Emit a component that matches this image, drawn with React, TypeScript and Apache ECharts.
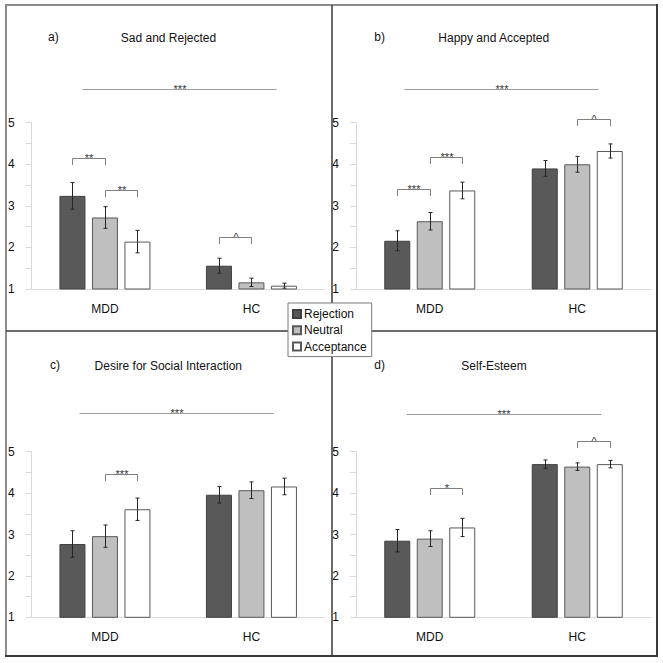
import React, { useEffect, useRef } from 'react';
import * as echarts from 'echarts';

const categories = ['MDD', 'HC'];
const conditions = ['Rejection', 'Neutral', 'Acceptance'];
const yTickValues = [1, 2, 3, 4, 5];

// a) Sad and Rejected
const sadRejection = [3.24, 1.56];
const sadNeutral = [2.72, 1.16];
const sadAcceptance = [2.14, 1.08];
const sadRejectionSE = [0.32, 0.18];
const sadNeutralSE = [0.26, 0.1];
const sadAcceptanceSE = [0.27, 0.06];

// b) Happy and Accepted
const happyRejection = [2.16, 3.9];
const happyNeutral = [2.63, 4.0];
const happyAcceptance = [3.37, 4.32];
const happyRejectionSE = [0.24, 0.19];
const happyNeutralSE = [0.21, 0.19];
const happyAcceptanceSE = [0.2, 0.17];

// c) Desire for Social Interaction
const desireRejection = [2.77, 3.96];
const desireNeutral = [2.96, 4.07];
const desireAcceptance = [3.61, 4.16];
const desireRejectionSE = [0.32, 0.2];
const desireNeutralSE = [0.27, 0.2];
const desireAcceptanceSE = [0.27, 0.2];

// d) Self-Esteem
const esteemRejection = [2.85, 4.7];
const esteemNeutral = [2.9, 4.64];
const esteemAcceptance = [3.17, 4.7];
const esteemRejectionSE = [0.27, 0.1];
const esteemNeutralSE = [0.19, 0.09];
const esteemAcceptanceSE = [0.22, 0.09];

// significance: [catFrom, barFrom, catTo, barTo, yValue, hasTicks]
const sadBrackets = [
  [0, 0.29, 1, 1.77, 5.82, 0],
  [0, 0, 0, 1, 4.14, 1],
  [0, 1, 0, 2, 3.38, 1],
  [1, 0, 1, 1, 2.24, 1],
];
const sadLabels = ['***', '**', '**', '^'];
const happyBrackets = [
  [0, 0.2, 1, 1.63, 5.82, 0],
  [0, 0, 0, 1, 3.4, 1],
  [0, 1, 0, 2, 4.18, 1],
  [1, 1, 1, 2, 5.1, 1],
];
const happyLabels = ['***', '***', '***', '^'];
const desireBrackets = [
  [0, 0.2, 1, 1.66, 5.93, 0],
  [0, 1, 0, 2, 4.46, 1],
];
const desireLabels = ['***', '***'];
const esteemBrackets = [
  [0, 0.28, 1, 1.74, 5.91, 0],
  [0, 1, 0, 2, 4.12, 1],
  [1, 1, 1, 2, 5.26, 1],
];
const esteemLabels = ['***', '*', '^'];

const panelTitles = ['Sad and Rejected', 'Happy and Accepted', 'Desire for Social Interaction', 'Self-Esteem'];
const panelLetters = ['a)', 'b)', 'c)', 'd)'];

const FONT = "'Liberation Sans', Arial, Helvetica, sans-serif";
const BAR_W = 26;
const BAR_STEP = 32.5;
const fills = ['#595959', '#bfbfbf', '#ffffff'];
const borders = ['#404040', '#595959', '#595959'];

const panels = [
  {
    means: [sadRejection, sadNeutral, sadAcceptance],
    se: [sadRejectionSE, sadNeutralSE, sadAcceptanceSE],
    brackets: sadBrackets,
    labels: sadLabels,
    grid: { left: 31.7, top: 122.7, width: 293, height: 166.3 },
    letter: { x: 48, y: 37.7 },
    title: { x: 168.5, y: 37.7 },
  },
  {
    means: [happyRejection, happyNeutral, happyAcceptance],
    se: [happyRejectionSE, happyNeutralSE, happyAcceptanceSE],
    brackets: happyBrackets,
    labels: happyLabels,
    grid: { left: 356, top: 122.7, width: 295, height: 166.3 },
    letter: { x: 374.3, y: 37.7 },
    title: { x: 493.7, y: 37.7 },
  },
  {
    means: [desireRejection, desireNeutral, desireAcceptance],
    se: [desireRejectionSE, desireNeutralSE, desireAcceptanceSE],
    brackets: desireBrackets,
    labels: desireLabels,
    grid: { left: 31.7, top: 451.7, width: 293, height: 165.6 },
    letter: { x: 50, y: 365.7 },
    title: { x: 168.3, y: 365.7 },
  },
  {
    means: [esteemRejection, esteemNeutral, esteemAcceptance],
    se: [esteemRejectionSE, esteemNeutralSE, esteemAcceptanceSE],
    brackets: esteemBrackets,
    labels: esteemLabels,
    grid: { left: 356, top: 451.7, width: 295, height: 165.6 },
    letter: { x: 374.3, y: 365.7 },
    title: { x: 494, y: 365.7 },
  },
];

function buildOption() {
  const grid: any[] = [];
  const xAxis: any[] = [];
  const yAxis: any[] = [];
  const series: any[] = [];
  const graphic: any[] = [];

  panels.forEach((p, gi) => {
    grid.push({ ...p.grid, containLabel: false });
    xAxis.push({
      type: 'category',
      gridIndex: gi,
      data: categories,
      axisLine: { show: true, lineStyle: { color: '#d9d9d9', width: 1 } },
      axisTick: { show: false },
      axisLabel: { color: '#111111', fontSize: 12, fontFamily: FONT, margin: 14 },
      splitLine: { show: false },
    });
    yAxis.push({
      type: 'value',
      gridIndex: gi,
      min: 1,
      max: 5,
      interval: 0.5,
      axisLine: { show: true, lineStyle: { color: '#d9d9d9', width: 1 } },
      axisTick: { show: true, length: 6, lineStyle: { color: '#d9d9d9' } },
      axisLabel: {
        color: '#111111',
        fontSize: 12,
        fontFamily: FONT,
        margin: 17,
        formatter: (v: number) => (yTickValues.includes(v) ? String(v) : ''),
      },
      splitLine: { show: false },
    });

    conditions.forEach((c, ci) => {
      series.push({
        type: 'bar',
        name: c,
        xAxisIndex: gi,
        yAxisIndex: gi,
        data: p.means[ci],
        barWidth: BAR_W,
        barGap: '25%',
        itemStyle: { color: fills[ci], borderColor: borders[ci], borderWidth: 1 },
        silent: true,
      });
    });

    const errData: number[][] = [];
    conditions.forEach((c, ci) => {
      categories.forEach((cat, k) => {
        const m = p.means[ci][k];
        const s = p.se[ci][k];
        errData.push([k, ci, m - s, m + s]);
      });
    });
    series.push({
      type: 'custom',
      name: 'err' + gi,
      xAxisIndex: gi,
      yAxisIndex: gi,
      data: errData,
      clip: false,
      silent: true,
      z: 5,
      itemStyle: { color: '#262626' },
      encode: { x: 0, y: [2, 3] },
      renderItem: (params: any, api: any) => {
        const k = api.value(0);
        const pos = api.value(1);
        const lo = api.value(2);
        const hi = api.value(3);
        const pHi = api.coord([k, hi]);
        const pLo = api.coord([k, lo]);
        const x = Math.round(pHi[0] + (pos - 1) * BAR_STEP) + 0.5;
        const st = { stroke: '#262626', lineWidth: 1 };
        return {
          type: 'group',
          children: [
            { type: 'line', shape: { x1: x, y1: pHi[1], x2: x, y2: pLo[1] }, style: st },
            { type: 'line', shape: { x1: x - 2, y1: pHi[1], x2: x + 2, y2: pHi[1] }, style: st },
            { type: 'line', shape: { x1: x - 2, y1: pLo[1], x2: x + 2, y2: pLo[1] }, style: st },
          ],
        };
      },
    });

    const labels = p.labels;
    series.push({
      type: 'custom',
      name: 'sig' + gi,
      xAxisIndex: gi,
      yAxisIndex: gi,
      data: p.brackets,
      clip: false,
      silent: true,
      z: 6,
      itemStyle: { color: '#333333' },
      encode: { x: 0, y: 4 },
      renderItem: (params: any, api: any) => {
        const c1 = api.value(0);
        const b1 = api.value(1);
        const c2 = api.value(2);
        const b2 = api.value(3);
        const yv = api.value(4);
        const ticks = api.value(5);
        const p1 = api.coord([c1, yv]);
        const p2 = api.coord([c2, yv]);
        const x1 = Math.round(p1[0] + (b1 - 1) * BAR_STEP) + 0.5;
        const x2 = Math.round(p2[0] + (b2 - 1) * BAR_STEP) + 0.5;
        const y = Math.round(p1[1]) + 0.5;
        const color = ticks ? '#7f7f7f' : '#9a9a9a';
        const st = { stroke: color, lineWidth: 1 };
        const children: any[] = [
          { type: 'line', shape: { x1, y1: y, x2, y2: y }, style: st },
        ];
        if (ticks) {
          children.push({ type: 'line', shape: { x1, y1: y, x2: x1, y2: y + 6.5 }, style: st });
          children.push({ type: 'line', shape: { x1: x2, y1: y, x2, y2: y + 6.5 }, style: st });
        }
        children.push({
          type: 'text',
          x: Math.round((x1 + x2) / 2),
          y: Math.round(y - 1),
          style: {
            text: labels[params.dataIndex],
            textAlign: 'center',
            textVerticalAlign: 'middle',
            fontSize: 11,
            fontFamily: FONT,
            fill: '#333333',
            textFill: '#333333',
          },
        });
        return { type: 'group', children };
      },
    });

    graphic.push({
      type: 'text',
      left: p.letter.x,
      top: p.letter.y - 7,
      style: { text: panelLetters[gi], fontSize: 12, fontFamily: FONT, fill: '#111111' },
      z: 10,
    });
    graphic.push({
      type: 'text',
      x: p.title.x,
      y: p.title.y,
      style: {
        text: panelTitles[gi],
        fontSize: 12,
        fontFamily: FONT,
        fill: '#111111',
        textAlign: 'center',
        textVerticalAlign: 'middle',
      },
      z: 10,
    });
  });

  // frame
  const light = { stroke: '#8c8c8c', lineWidth: 2 };
  const dark = { stroke: '#3a3a3a', lineWidth: 2 };
  graphic.push({ type: 'line', shape: { x1: 5, y1: 5, x2: 657, y2: 5 }, style: light, z: 0 });
  graphic.push({ type: 'line', shape: { x1: 6, y1: 5, x2: 6, y2: 657 }, style: light, z: 0 });
  graphic.push({ type: 'line', shape: { x1: 657, y1: 4, x2: 657, y2: 657 }, style: dark, z: 0 });
  graphic.push({ type: 'line', shape: { x1: 5, y1: 656, x2: 658, y2: 656 }, style: dark, z: 0 });
  graphic.push({ type: 'line', shape: { x1: 332, y1: 5, x2: 332, y2: 656 }, style: { stroke: '#3a3a3a', lineWidth: 1.5 }, z: 0 });
  graphic.push({ type: 'line', shape: { x1: 6, y1: 331, x2: 657, y2: 331 }, style: { stroke: '#3a3a3a', lineWidth: 1.5 }, z: 0 });

  return {
    animation: false,
    backgroundColor: '#ffffff',
    grid,
    xAxis,
    yAxis,
    series,
    graphic,
    legend: {
      data: conditions,
      orient: 'vertical',
      left: 288,
      top: 303,
      padding: [5, 5, 4, 4],
      itemGap: 4.3,
      itemWidth: 8,
      itemHeight: 8,
      icon: 'rect',
      backgroundColor: '#ffffff',
      borderColor: '#7a7a7a',
      borderWidth: 1,
      borderRadius: 0,
      textStyle: { color: '#111111', fontSize: 12, fontFamily: FONT, padding: [0, 0, 0, -2] },
      selectedMode: false,
      z: 20,
    },
  };
}

export default function App() {
  const ref = useRef<HTMLDivElement>(null);
  useEffect(() => {
    if (!ref.current) return;
    const chart = echarts.init(ref.current, undefined, { renderer: 'svg' });
    chart.setOption(buildOption() as any);
    return () => chart.dispose();
  }, []);
  return (
    <div
      ref={ref}
      style={{ position: 'absolute', left: 0, top: 0, width: 663, height: 663, background: '#fff' }}
    />
  );
}
